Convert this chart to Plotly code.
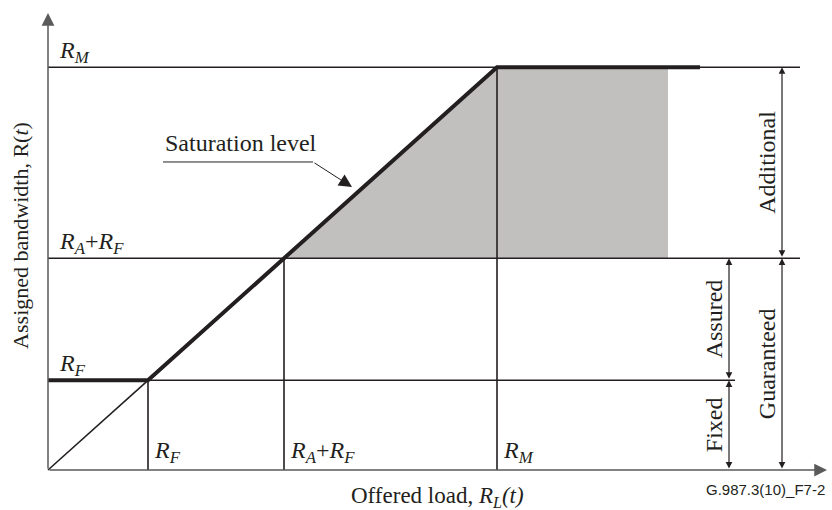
import plotly.graph_objects as go

# ---- data (levels of the diagram, in load / bandwidth units) ----
RF = 1.0
RARF = 2.36
RM = 4.49
level_values = [RF, RARF, RM]
level_labels = [
    "<i>R</i><sub><i>F</i></sub>",
    "<i>R</i><sub><i>A</i></sub>+<i>R</i><sub><i>F</i></sub>",
    "<i>R</i><sub><i>M</i></sub>",
]
level_line_end = [6.87, 7.52, 7.52]

# saturation curve (thick) and the offered-load diagonal (thin)
sat_x = [0, RF, RM, 6.52]
sat_y = [RF, RF, RM, RM]
diag_x = [0, RF]
diag_y = [0, RF]

# shaded region (additional bandwidth)
shade_x = [RARF, RM, 6.2, 6.2]
shade_y = [RARF, RM, RM, RARF]

# dimension arrows on the right
dim_names = ["Fixed", "Assured", "Additional", "Guaranteed"]
dim_from = [0, RF, RARF, 0]
dim_to = [RF, RARF, RM, RARF]
dim_x = [6.81, 6.81, 7.34, 7.34]

X_MAX = 7.79
Y_MAX = 5.095

# ---- layout scale (pixels per unit) ----
W, H = 832, 510
XS, YS = 100.0, 89.7
X0PX, Y0PX = 48, 470

INK = "#231f20"
AXIS = "#5a5a5a"
FONT = "Liberation Serif"

fig = go.Figure()

fig.add_trace(go.Scatter(x=shade_x, y=shade_y, fill="toself", fillcolor="#c1c0be",
                         line=dict(width=0), mode="lines", hoverinfo="skip"))

for v, e in zip(level_values, level_line_end):
    fig.add_trace(go.Scatter(x=[0, e], y=[v, v], mode="lines",
                             line=dict(color=INK, width=1.6), hoverinfo="skip"))
    fig.add_trace(go.Scatter(x=[v, v], y=[0, v], mode="lines",
                             line=dict(color=INK, width=1.6), hoverinfo="skip"))

fig.add_trace(go.Scatter(x=diag_x, y=diag_y, mode="lines",
                         line=dict(color=INK, width=1.6), hoverinfo="skip"))
fig.add_trace(go.Scatter(x=sat_x, y=sat_y, mode="lines",
                         line=dict(color=INK, width=4), hoverinfo="skip"))

# saturation label underline
fig.add_trace(go.Scatter(x=[1.15, 2.65], y=[3.434, 3.434], mode="lines",
                         line=dict(color=INK, width=1), hoverinfo="skip"))

ann = []
# axes with arrows
ann.append(dict(x=0, y=Y_MAX, ax=0, ay=0, xref="x", yref="y", axref="x", ayref="y",
                text="", showarrow=True, arrowhead=2, arrowsize=1.7, arrowwidth=1.5,
                arrowcolor=AXIS))
ann.append(dict(x=X_MAX, y=0, ax=0, ay=0, xref="x", yref="y", axref="x", ayref="y",
                text="", showarrow=True, arrowhead=2, arrowsize=1.7, arrowwidth=1.5,
                arrowcolor=AXIS))
# saturation leader arrow
ann.append(dict(x=3.04, y=3.155, ax=2.65, ay=3.434, xref="x", yref="y", axref="x", ayref="y",
                text="", showarrow=True, arrowhead=2, arrowsize=2.6, arrowwidth=1,
                arrowcolor=INK))
ann.append(dict(x=1.15, y=3.645, xref="x", yref="y", text="Saturation level", showarrow=False,
                xanchor="left", yanchor="middle", font=dict(family=FONT, size=24, color=INK)))

# level labels on the left and on the bottom
for v, lab in zip(level_values, level_labels):
    ann.append(dict(x=0.09, y=v, xref="x", yref="y", text=lab, showarrow=False,
                    xanchor="left", yanchor="middle", yshift=15,
                    font=dict(family=FONT, size=24, color=INK)))
    ann.append(dict(x=v + 0.04, y=0, xref="x", yref="y", text=lab, showarrow=False,
                    xanchor="left", yanchor="middle", yshift=18,
                    font=dict(family=FONT, size=24, color=INK)))

# dimension arrows and labels
for name, a, b, xd in zip(dim_names, dim_from, dim_to, dim_x):
    ann.append(dict(x=xd, y=b, ax=xd, ay=a, xref="x", yref="y", axref="x", ayref="y",
                    text="", showarrow=True, arrowhead=2, arrowsize=1.1, arrowwidth=1.2,
                    arrowside="end+start", arrowcolor=INK))
    ann.append(dict(x=xd, y=(a + b) / 2, xref="x", yref="y", text=name, showarrow=False,
                    textangle=-90, xanchor="center", yanchor="middle", xshift=-15,
                    font=dict(family=FONT, size=24, color=INK)))

# axis titles
ann.append(dict(x=-0.27, y=2.61, xref="x", yref="y", text="Assigned bandwidth, R(<i>t</i>)",
                showarrow=False, textangle=-90, font=dict(family=FONT, size=22, color=INK)))
ann.append(dict(x=3.89, y=-0.30, xref="x", yref="y",
                text="Offered load, <i>R</i><sub><i>L</i></sub><i>(t)</i>",
                showarrow=False, font=dict(family=FONT, size=23, color=INK)))
ann.append(dict(x=7.17, y=-0.212, xref="x", yref="y", text="G.987.3(10)_F7-2",
                showarrow=False, font=dict(family="Liberation Sans", size=15, color=INK)))

fig.update_layout(
    width=W, height=H,
    margin=dict(l=0, r=0, t=0, b=0),
    paper_bgcolor="white", plot_bgcolor="white",
    showlegend=False,
    annotations=ann,
    xaxis=dict(visible=False, range=[-X0PX / XS, (W - X0PX) / XS], fixedrange=True),
    yaxis=dict(visible=False, range=[-(H - Y0PX) / YS, Y0PX / YS], fixedrange=True),
)

fig.write_html(
    "out.html",
    config={"displayModeBar": False},
    post_script="document.body.style.margin='0';document.body.style.overflow='hidden';",
)
